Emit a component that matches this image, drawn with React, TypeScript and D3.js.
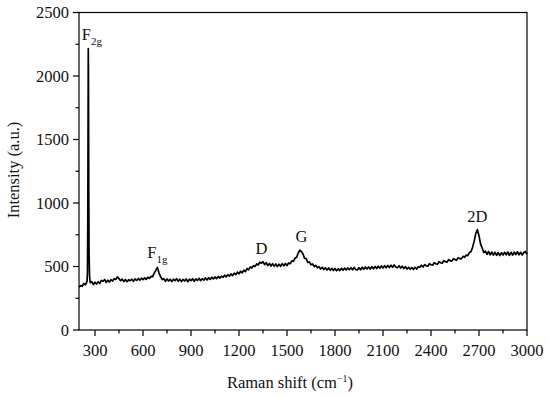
import React from "react";
import * as d3 from "d3";

// Raman spectrum readings (shift in cm^-1, intensity in a.u.)
const shift: number[] = [
  200, 210, 220, 230, 240, 250, 253, 255, 257, 258, 259, 261, 263, 266, 270, 280, 290,
  300, 310, 320, 330, 340, 350, 360, 370, 380, 390, 400, 410, 420, 430, 440, 450, 460, 470, 480, 490,
  500, 510, 520, 530, 540, 550, 560, 570, 580, 590, 600, 610, 620, 630, 640, 650, 660, 670, 680, 690,
  700, 710, 720, 730, 740, 750, 760, 770, 780, 790, 800, 810, 820, 830, 840, 850, 860, 870, 880, 890,
  900, 910, 920, 930, 940, 950, 960, 970, 980, 990, 1000, 1010, 1020, 1030, 1040, 1050, 1060, 1070, 1080, 1090,
  1100, 1110, 1120, 1130, 1140, 1150, 1160, 1170, 1180, 1190, 1200, 1210, 1220, 1230, 1240, 1250, 1260, 1270, 1280, 1290,
  1300, 1310, 1320, 1330, 1340, 1350, 1360, 1370, 1380, 1390, 1400, 1410, 1420, 1430, 1440, 1450, 1460, 1470, 1480, 1490,
  1500, 1510, 1520, 1530, 1540, 1550, 1560, 1570, 1580, 1590, 1600, 1610, 1620, 1630, 1640, 1650, 1660, 1670, 1680, 1690,
  1700, 1710, 1720, 1730, 1740, 1750, 1760, 1770, 1780, 1790, 1800, 1810, 1820, 1830, 1840, 1850, 1860, 1870, 1880, 1890,
  1900, 1910, 1920, 1930, 1940, 1950, 1960, 1970, 1980, 1990, 2000, 2010, 2020, 2030, 2040, 2050, 2060, 2070, 2080, 2090,
  2100, 2110, 2120, 2130, 2140, 2150, 2160, 2170, 2180, 2190, 2200, 2210, 2220, 2230, 2240, 2250, 2260, 2270, 2280, 2290,
  2300, 2310, 2320, 2330, 2340, 2350, 2360, 2370, 2380, 2390, 2400, 2410, 2420, 2430, 2440, 2450, 2460, 2470, 2480, 2490,
  2500, 2510, 2520, 2530, 2540, 2550, 2560, 2570, 2580, 2590, 2600, 2610, 2620, 2630, 2640, 2650, 2660, 2670, 2680, 2690,
  2700, 2710, 2720, 2730, 2740, 2750, 2760, 2770, 2780, 2790, 2800, 2810, 2820, 2830, 2840, 2850, 2860, 2870, 2880, 2890,
  2900, 2910, 2920, 2930, 2940, 2950, 2960, 2970, 2980, 2990, 3000,
];

const intensity: number[] = [
  338, 350, 344, 366, 356, 382, 460, 900, 1750, 2215, 2050, 1100, 600, 420, 372, 380, 358,
  376, 362, 380, 366, 390, 384, 398, 374, 392, 378, 396, 386, 404, 398, 418, 404, 388, 400, 382, 398,
  380, 396, 388, 400, 384, 402, 390, 406, 392, 408, 396, 410, 398, 416, 406, 422, 420, 448, 470, 492,
  448, 420, 398, 404, 384, 402, 386, 398, 382, 400, 388, 404, 384, 400, 382, 398, 386, 402, 380, 400,
  388, 404, 384, 402, 390, 408, 388, 404, 392, 410, 394, 412, 398, 416, 402, 418, 404, 422, 408, 424,
  414, 432, 418, 436, 424, 442, 428, 448, 436, 456, 442, 462, 450, 472, 460, 484, 474, 496, 488, 506,
  500, 520, 512, 534, 526, 538, 514, 530, 508, 524, 504, 522, 502, 520, 500, 518, 502, 522, 506, 524,
  508, 528, 522, 544, 540, 566, 572, 606, 628, 618, 598, 564, 562, 532, 536, 514, 520, 500, 508, 490,
  498, 480, 494, 476, 490, 472, 488, 470, 486, 468, 484, 466, 482, 468, 486, 470, 488, 472, 488, 474,
  490, 474, 492, 476, 472, 490, 474, 494, 478, 496, 480, 496, 480, 498, 482, 500, 484, 502, 486, 504,
  488, 506, 490, 508, 492, 510, 494, 512, 496, 490, 506, 488, 502, 484, 498, 480, 494, 478, 492, 476,
  494, 480, 498, 494, 510, 496, 514, 506, 502, 522, 514, 510, 530, 522, 518, 538, 530, 526, 546, 538,
  534, 554, 546, 542, 562, 554, 550, 570, 562, 560, 580, 572, 590, 586, 610, 616, 652, 700, 760, 790,
  742, 676, 646, 610, 622, 596, 618, 592, 614, 590, 612, 588, 610, 586, 608, 590, 612, 592, 614, 588,
  612, 590, 614, 594, 616, 592, 612, 590, 610, 618, 596,
];

const xTicks: number[] = [300, 600, 900, 1200, 1500, 1800, 2100, 2400, 2700, 3000];
const xMinor: number[] = [450, 750, 1050, 1350, 1650, 1950, 2250, 2550, 2850];
const yTicks: number[] = [0, 500, 1000, 1500, 2000, 2500];
const yMinor: number[] = [250, 750, 1250, 1750, 2250];

const peakLabels = [
  { main: "F", sub: "2g", x: 280, y: 2285 },
  { main: "F", sub: "1g", x: 690, y: 570 },
  { main: "D", sub: "", x: 1340, y: 600 },
  { main: "G", sub: "", x: 1590, y: 690 },
  { main: "2D", sub: "", x: 2690, y: 850 },
];

export default function App() {
  const W = 550, H = 398;
  const left = 79, right = 527, top = 12.5, bottom = 330;
  const x = d3.scaleLinear().domain([200, 3000]).range([left, right]);
  const y = d3.scaleLinear().domain([0, 2500]).range([bottom, top]);
  const pts = shift.map((s, i) => [s, intensity[i]] as [number, number]);
  const line = d3.line<[number, number]>().x(d => x(d[0])).y(d => y(d[1]));
  const font = "'Liberation Serif', 'Times New Roman', serif";

  return (
    <svg width={W} height={H} style={{ position: "absolute", left: 0, top: 0, background: "#fff" }}
      fontFamily={font}>
      <rect width={W} height={H} fill="#fff" />
      <path d={line(pts) || ""} fill="none" stroke="#000" strokeWidth={1.7} strokeLinejoin="round" />
      {/* frame */}
      <rect x={left} y={top} width={right - left} height={bottom - top} fill="none" stroke="#000" strokeWidth={1.2} />
      {/* x ticks */}
      {xTicks.map(t => (
        <g key={"xt" + t}>
          <line x1={x(t)} x2={x(t)} y1={bottom} y2={bottom + 6} stroke="#000" strokeWidth={1.2} />
          <text x={x(t)} y={356} fontSize={16.5} textAnchor="middle" fill="#111">{t}</text>
        </g>
      ))}
      {xMinor.map(t => (
        <line key={"xm" + t} x1={x(t)} x2={x(t)} y1={bottom} y2={bottom + 3.5} stroke="#000" strokeWidth={1.2} />
      ))}
      {/* y ticks */}
      {yTicks.map(t => (
        <g key={"yt" + t}>
          <line x1={left - 6} x2={left} y1={y(t)} y2={y(t)} stroke="#000" strokeWidth={1.2} />
          <text x={69} y={y(t) + 5.5} fontSize={16.5} textAnchor="end" fill="#111">{t}</text>
        </g>
      ))}
      {yMinor.map(t => (
        <line key={"ym" + t} x1={left - 3.5} x2={left} y1={y(t)} y2={y(t)} stroke="#000" strokeWidth={1.2} />
      ))}
      {/* axis titles */}
      <text x={290} y={388} fontSize={16.5} textAnchor="middle" fill="#111">
        Raman shift (cm<tspan dy={-6} fontSize={10}>−1</tspan><tspan dy={6}>)</tspan>
      </text>
      <text transform="translate(19,170) rotate(-90)" fontSize={16.5} textAnchor="middle" fill="#111">
        Intensity (a.u.)
      </text>
      {/* peak annotations */}
      {peakLabels.map((p, i) => (
        <text key={"pl" + i} x={x(p.x)} y={y(p.y)} fontSize={16.5} textAnchor="middle" fill="#111">
          {p.main}
          {p.sub ? <tspan dy={5} fontSize={11}>{p.sub}</tspan> : null}
        </text>
      ))}
    </svg>
  );
}
